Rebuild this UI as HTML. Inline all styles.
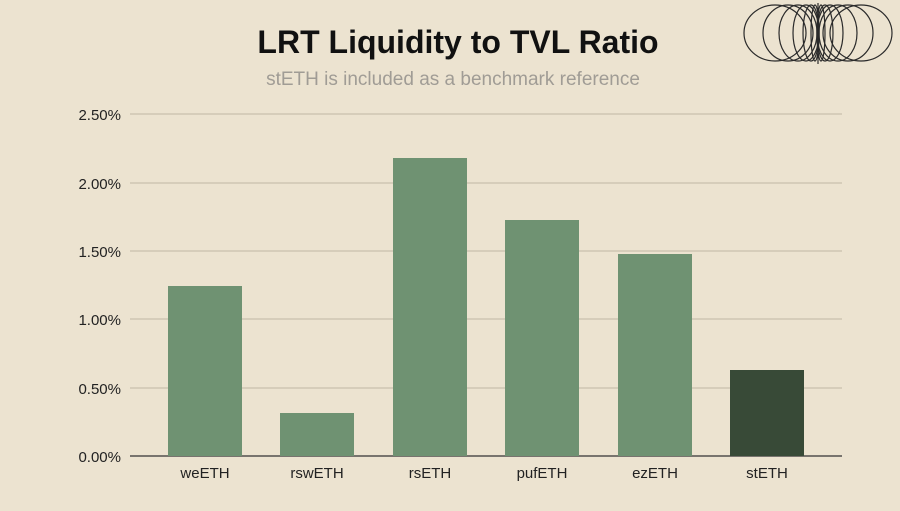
<!DOCTYPE html>
<html><head><style>
body{margin:0;width:900px;height:506px;background:#ece3d0;font-family:"Liberation Sans",sans-serif;overflow:hidden}
</style></head><body>
<svg width="900" height="506" xmlns="http://www.w3.org/2000/svg">
<rect width="900" height="506" fill="#ece3d0"/>
<text x="458" y="53" text-anchor="middle" font-size="32" font-weight="bold" fill="#111">LRT Liquidity to TVL Ratio</text>
<text x="453" y="85" text-anchor="middle" font-size="19" fill="#a09c95">stETH is included as a benchmark reference</text>
<g stroke="#c9c0ad" stroke-width="1.3">
<line x1="130" y1="114" x2="842" y2="114"/>
<line x1="130" y1="183" x2="842" y2="183"/>
<line x1="130" y1="251" x2="842" y2="251"/>
<line x1="130" y1="319" x2="842" y2="319"/>
<line x1="130" y1="388" x2="842" y2="388"/>
</g>
<line x1="130" y1="456" x2="842" y2="456" stroke="#333" stroke-width="1.3"/>
<g font-size="15" fill="#222" text-anchor="end">
<text x="121" y="120">2.50%</text>
<text x="121" y="189">2.00%</text>
<text x="121" y="257">1.50%</text>
<text x="121" y="325">1.00%</text>
<text x="121" y="394">0.50%</text>
<text x="121" y="462">0.00%</text>
</g>
<g fill="#6f9272">
<rect x="168" y="286" width="74" height="170"/>
<rect x="280" y="413" width="74" height="43"/>
<rect x="393" y="158" width="74" height="298"/>
<rect x="505" y="220" width="74" height="236"/>
<rect x="618" y="254" width="74" height="202"/>
</g>
<rect x="730" y="370" width="74" height="86" fill="#384a37"/>
<g font-size="15" fill="#222" text-anchor="middle">
<text x="205" y="478">weETH</text>
<text x="317" y="478">rswETH</text>
<text x="430" y="478">rsETH</text>
<text x="542" y="478">pufETH</text>
<text x="655" y="478">ezETH</text>
<text x="767" y="478">stETH</text>
</g>
<g fill="none" stroke="#2a2a2a" stroke-width="1.2">
<ellipse cx="775" cy="33" rx="31" ry="28"/>
<ellipse cx="788" cy="33" rx="25" ry="28"/>
<ellipse cx="798" cy="33" rx="19" ry="28"/>
<ellipse cx="806" cy="33" rx="13" ry="28"/>
<ellipse cx="811" cy="33" rx="8" ry="28"/>
<ellipse cx="815" cy="33" rx="4" ry="28"/>
<ellipse cx="861" cy="33" rx="31" ry="28"/>
<ellipse cx="848" cy="33" rx="25" ry="28"/>
<ellipse cx="838" cy="33" rx="19" ry="28"/>
<ellipse cx="830" cy="33" rx="13" ry="28"/>
<ellipse cx="825" cy="33" rx="8" ry="28"/>
<ellipse cx="821" cy="33" rx="4" ry="28"/>
<line x1="818" y1="3" x2="818" y2="64"/>
</g>
</svg>
</body></html>
